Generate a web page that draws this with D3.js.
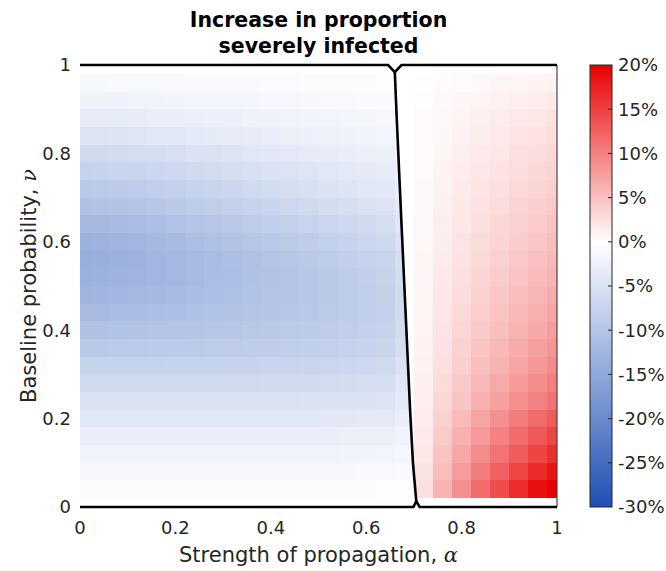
<!DOCTYPE html>
<html>
<head>
<meta charset="utf-8">
<script src="https://cdn.jsdelivr.net/npm/d3@7"></script>
<style>
  body { margin: 0; background: #fff; }
  svg text { font-family: "DejaVu Sans", sans-serif; }
</style>
</head>
<body>
<section></section>
<script>
// grid of strength of propagation (alpha) and baseline probability (nu)
const alphaGrid = [0, 0.04, 0.08, 0.12, 0.16, 0.2, 0.24, 0.28, 0.32, 0.36, 0.4, 0.44, 0.48,
  0.52, 0.56, 0.6, 0.64, 0.68, 0.72, 0.76, 0.8, 0.84, 0.88, 0.92, 0.96, 1];
const nuGrid = [1, 0.96, 0.92, 0.88, 0.84, 0.8, 0.76, 0.72, 0.68, 0.64, 0.6, 0.56, 0.52,
  0.48, 0.44, 0.4, 0.36, 0.32, 0.28, 0.24, 0.2, 0.16, 0.12, 0.08, 0.04, 0];

// increase in proportion severely infected (%), one row per nu (top to bottom)
const increase = [
  [0,0,0,0,0,0,0,0,0,0,0,0,0,0,0,0,0,0, 0,0,0,0,0,0,0,0],
  [-1.2,-1.2,-1.1,-1.1,-1.0,-1.0,-0.9,-0.9,-0.8,-0.8,-0.7,-0.7,-0.6,-0.6,-0.5,-0.5,-0.4,-0.3, 0.1,0.3,0.4,0.5,0.7,0.8,0.9,1.0],
  [-2.3,-2.3,-2.2,-2.1,-2.0,-1.9,-1.8,-1.7,-1.6,-1.5,-1.4,-1.3,-1.2,-1.1,-1.0,-0.9,-0.8,-0.6, 0.2,0.5,0.7,0.9,1.1,1.3,1.5,1.7],
  [-3.4,-3.4,-3.3,-3.2,-3.0,-2.9,-2.8,-2.6,-2.5,-2.3,-2.2,-2.0,-1.9,-1.7,-1.6,-1.5,-1.3,-1.0, 0.3,0.6,0.9,1.2,1.5,1.7,2.0,2.2],
  [-4.7,-4.6,-4.5,-4.4,-4.2,-4.0,-3.8,-3.6,-3.4,-3.2,-3.0,-2.8,-2.6,-2.4,-2.2,-2.0,-1.8,-1.4, 0.3,0.7,1.1,1.4,1.7,2.1,2.3,2.6],
  [-6.2,-6.1,-6.0,-5.8,-5.6,-5.3,-5.0,-4.8,-4.5,-4.2,-3.9,-3.7,-3.4,-3.2,-2.9,-2.7,-2.5,-1.9, 0.4,0.8,1.3,1.7,2.0,2.4,2.7,3.0],
  [-7.7,-7.6,-7.4,-7.2,-6.9,-6.6,-6.3,-6.0,-5.7,-5.3,-5.0,-4.7,-4.4,-4.1,-3.8,-3.5,-3.2,-2.5, 0.4,1.0,1.4,1.9,2.3,2.7,3.1,3.4],
  [-9.2,-9.1,-8.9,-8.6,-8.3,-8.0,-7.6,-7.2,-6.8,-6.4,-6.0,-5.6,-5.2,-4.8,-4.5,-4.2,-3.9,-3.0, 0.5,1.1,1.6,2.1,2.5,3.0,3.4,3.8],
  [-10.6,-10.5,-10.3,-10.0,-9.6,-9.2,-8.8,-8.4,-8.0,-7.6,-7.2,-6.7,-6.3,-5.9,-5.5,-5.1,-4.7,-3.6, 0.5,1.2,1.8,2.3,2.8,3.3,3.8,4.2],
  [-12.0,-11.9,-11.6,-11.3,-10.9,-10.5,-10.1,-9.7,-9.2,-8.8,-8.3,-7.9,-7.4,-7.0,-6.5,-6.1,-5.6,-4.4, 0.6,1.3,1.9,2.5,3.1,3.6,4.1,4.6],
  [-13.2,-13.1,-12.8,-12.4,-12.0,-11.6,-11.2,-10.7,-10.3,-9.8,-9.4,-8.9,-8.5,-8.0,-7.5,-7.0,-6.5,-5.1, 0.6,1.4,2.1,2.8,3.4,4.0,4.5,5.0],
  [-13.7,-13.6,-13.3,-13.0,-12.6,-12.2,-11.8,-11.4,-11.0,-10.6,-10.1,-9.7,-9.3,-8.8,-8.3,-7.8,-7.3,-5.7, 0.7,1.5,2.3,3.0,3.7,4.3,4.9,5.5],
  [-13.5,-13.4,-13.1,-12.8,-12.5,-12.1,-11.8,-11.4,-11.1,-10.7,-10.4,-10.0,-9.6,-9.2,-8.7,-8.2,-7.7,-6.0, 0.7,1.7,2.5,3.3,4.0,4.7,5.4,6.0],
  [-12.8,-12.7,-12.5,-12.2,-11.9,-11.6,-11.3,-11.0,-10.8,-10.5,-10.2,-9.9,-9.6,-9.2,-8.8,-8.4,-7.9,-6.2, 0.8,1.8,2.7,3.6,4.4,5.1,5.8,6.5],
  [-11.8,-11.7,-11.5,-11.3,-11.1,-10.9,-10.7,-10.5,-10.3,-10.1,-9.9,-9.6,-9.4,-9.1,-8.8,-8.4,-8.0,-6.2, 0.8,2.0,2.9,3.9,4.7,5.5,6.3,7.0],
  [-10.6,-10.6,-10.5,-10.3,-10.2,-10.1,-9.9,-9.8,-9.7,-9.5,-9.3,-9.1,-8.9,-8.7,-8.4,-8.1,-7.7,-6.0, 0.9,2.1,3.2,4.2,5.1,6.0,6.8,7.6],
  [-9.2,-9.2,-9.1,-9.1,-9.0,-9.0,-8.9,-8.8,-8.7,-8.6,-8.5,-8.4,-8.2,-8.0,-7.8,-7.5,-7.2,-5.6, 1.0,2.3,3.5,4.6,5.6,6.6,7.5,8.3],
  [-7.8,-7.8,-7.7,-7.7,-7.7,-7.6,-7.6,-7.6,-7.5,-7.5,-7.4,-7.3,-7.2,-7.1,-6.9,-6.7,-6.4,-5.0, 1.1,2.5,3.8,5.0,6.0,7.1,8.1,9.0],
  [-6.4,-6.4,-6.4,-6.4,-6.4,-6.4,-6.3,-6.3,-6.3,-6.3,-6.2,-6.2,-6.1,-6.0,-5.9,-5.8,-5.6,-4.4, 1.2,2.8,4.2,5.5,6.7,7.9,9.0,10.0],
  [-5.1,-5.1,-5.1,-5.1,-5.1,-5.1,-5.1,-5.1,-5.1,-5.1,-5.1,-5.1,-5.0,-5.0,-4.9,-4.8,-4.7,-3.6, 1.3,3.1,4.6,6.1,7.4,8.7,9.9,11.0],
  [-4.0,-4.0,-4.0,-4.0,-4.0,-4.0,-4.0,-4.0,-4.0,-4.0,-4.0,-4.0,-4.0,-3.9,-3.9,-3.8,-3.7,-2.9, 1.5,3.6,5.4,7.1,8.7,10.2,11.6,12.8],
  [-2.9,-2.9,-2.9,-2.9,-2.9,-2.9,-2.9,-2.9,-2.9,-2.9,-2.9,-2.9,-2.9,-2.9,-2.8,-2.8,-2.7,-2.1, 1.7,4.1,6.1,8.0,9.8,11.5,13.1,14.5],
  [-2.0,-2.0,-2.0,-2.0,-2.0,-2.0,-2.0,-2.0,-2.0,-2.0,-2.0,-2.0,-2.0,-2.0,-1.9,-1.9,-1.8,-1.4, 1.9,4.6,6.9,9.0,11.0,12.9,14.7,16.2],
  [-1.2,-1.2,-1.2,-1.2,-1.2,-1.2,-1.2,-1.2,-1.2,-1.2,-1.2,-1.2,-1.2,-1.2,-1.2,-1.1,-1.1,-0.9, 2.2,5.2,7.8,10.2,12.4,14.6,16.6,18.3],
  [-0.5,-0.5,-0.5,-0.5,-0.5,-0.5,-0.5,-0.5,-0.5,-0.5,-0.5,-0.5,-0.5,-0.5,-0.5,-0.5,-0.4,-0.3, 2.5,5.9,8.8,11.5,14.0,16.5,18.8,20.0],
  [0,0,0,0,0,0,0,0,0,0,0,0,0,0,0,0,0,0, 0,0,0,0,0,0,0,0]
];

// zero-level contour dividing the two regions
const topEdgeAlpha = [0, 0.646, 0.66, 0.674, 1];
const topEdgeNu = [1, 1, 0.984, 1, 1];
const splitAlpha = [0.66, 0.664, 0.669, 0.674, 0.68, 0.686, 0.692, 0.698, 0.705];
const splitNu = [0.984, 0.88, 0.76, 0.64, 0.5, 0.36, 0.22, 0.1, 0.013];
const bottomEdgeAlpha = [0, 0.699, 0.705, 0.712, 1];
const bottomEdgeNu = [0, 0, 0.013, 0, 0];

const xTicks = [0, 0.2, 0.4, 0.6, 0.8, 1];
const yTicks = [0, 0.2, 0.4, 0.6, 0.8, 1];
const colorTicks = [20, 15, 10, 5, 0, -5, -10, -15, -20, -25, -30];

const W = 666, H = 571;
const pl = 80, pr = 557, pt = 65, pb = 507;

const svg = d3.select("section").append("svg")
  .attr("width", W).attr("height", H);

const x = d3.scaleLinear().domain([0, 1]).range([pl, pr]);
const y = d3.scaleLinear().domain([0, 1]).range([pb, pt]);
const color = d3.scaleLinear()
  .domain([-30, 0, 20])
  .range(["rgb(30,80,180)", "#ffffff", "rgb(232,0,0)"])
  .clamp(true);

const split = d3.zip(splitAlpha, splitNu);
const defs = svg.append("defs");
// blue side: left of the split line, red side: right of it
const leftSide = [[0, 1], [splitAlpha[0], 1]].concat(split, [[splitAlpha[splitAlpha.length - 1], 0], [0, 0]]);
const rightSide = [[splitAlpha[0], 1], [1, 1], [1, 0], [splitAlpha[splitAlpha.length - 1], 0]].concat(split.slice().reverse());
const poly = pts => "M" + pts.map(p => [x(p[0]), y(p[1])].join(",")).join("L") + "Z";
defs.append("clipPath").attr("id", "clipNeg").append("path").attr("d", poly(leftSide));
defs.append("clipPath").attr("id", "clipPos").append("path").attr("d", poly(rightSide));

const da = alphaGrid[1] - alphaGrid[0];
const dn = nuGrid[0] - nuGrid[1];

const cells = [];
increase.forEach((row, i) => row.forEach((v, j) => {
  cells.push({ a: alphaGrid[j], n: nuGrid[i], v: v });
}));

[["clipNeg", d => d.v <= 0], ["clipPos", d => d.v > 0]].forEach(([id, keep]) => {
  svg.append("g")
    .attr("clip-path", `url(#${id})`)
    .attr("shape-rendering", "crispEdges")
    .selectAll("rect")
    .data(cells.filter(keep))
    .enter()
    .append("rect")
    .attr("x", d => x(Math.max(0, d.a - da / 2)))
    .attr("y", d => y(Math.min(1, d.n + dn / 2)))
    .attr("width", d => x(Math.min(1, d.a + da / 2)) - x(Math.max(0, d.a - da / 2)))
    .attr("height", d => y(Math.max(0, d.n - dn / 2)) - y(Math.min(1, d.n + dn / 2)))
    .attr("fill", d => color(d.v));
});

// right edge of the axes
svg.append("line")
  .attr("x1", x(1)).attr("x2", x(1))
  .attr("y1", y(0)).attr("y2", y(1))
  .attr("stroke", "#444").attr("stroke-width", 1.2);

const line = d3.line().x(d => x(d[0])).y(d => y(d[1]));
const contours = [
  d3.zip(topEdgeAlpha, topEdgeNu),
  split,
  d3.zip(bottomEdgeAlpha, bottomEdgeNu)
];
svg.selectAll("path.contour")
  .data(contours)
  .enter()
  .append("path")
  .attr("class", "contour")
  .attr("d", line)
  .attr("fill", "none")
  .attr("stroke", "#000")
  .attr("stroke-width", 2.6)
  .attr("stroke-linejoin", "miter");

// tick labels
svg.selectAll("text.xtick")
  .data(xTicks)
  .enter()
  .append("text")
  .attr("class", "xtick")
  .attr("x", d => x(d))
  .attr("y", pb + 27)
  .attr("text-anchor", "middle")
  .attr("font-size", 18)
  .attr("fill", "#262626")
  .text(d => d);

svg.selectAll("text.ytick")
  .data(yTicks)
  .enter()
  .append("text")
  .attr("class", "ytick")
  .attr("x", pl - 9)
  .attr("y", d => y(d))
  .attr("dy", "0.35em")
  .attr("text-anchor", "end")
  .attr("font-size", 18)
  .attr("fill", "#262626")
  .text(d => d);

// axis labels
const xl = svg.append("text")
  .attr("x", (pl + pr) / 2)
  .attr("y", pb + 55)
  .attr("text-anchor", "middle")
  .attr("font-size", 21)
  .attr("fill", "#262626");
xl.append("tspan").text("Strength of propagation, ");
xl.append("tspan").attr("font-family", "DejaVu Serif").attr("font-style", "italic").text("α");

const yl = svg.append("text")
  .attr("transform", `translate(36,${(pt + pb) / 2}) rotate(-90)`)
  .attr("text-anchor", "middle")
  .attr("font-size", 21)
  .attr("fill", "#262626");
yl.append("tspan").text("Baseline probability, ");
yl.append("tspan").attr("font-family", "DejaVu Serif").attr("font-style", "italic").text("ν");

// title
svg.selectAll("text.title")
  .data(["Increase in proportion", "severely infected"])
  .enter()
  .append("text")
  .attr("class", "title")
  .attr("x", (pl + pr) / 2)
  .attr("y", (d, i) => 27 + i * 26)
  .attr("text-anchor", "middle")
  .attr("font-size", 20.5)
  .attr("font-weight", "bold")
  .attr("fill", "#000")
  .text(d => d);

// colorbar
const cbX = 590, cbW = 22;
const cy = d3.scaleLinear().domain([-30, 20]).range([pb, pt]);
const grad = defs.append("linearGradient")
  .attr("id", "cbar").attr("x1", 0).attr("x2", 0).attr("y1", 1).attr("y2", 0);
grad.selectAll("stop")
  .data(colorTicks.slice().reverse())
  .enter()
  .append("stop")
  .attr("offset", d => (d + 30) / 50)
  .attr("stop-color", d => color(d));

svg.append("rect")
  .attr("x", cbX).attr("y", pt)
  .attr("width", cbW).attr("height", pb - pt)
  .attr("fill", "url(#cbar)")
  .attr("stroke", "#262626").attr("stroke-width", 1);

svg.selectAll("line.cbtick")
  .data(colorTicks.slice(1, -1))
  .enter()
  .append("line")
  .attr("class", "cbtick")
  .attr("x1", cbX + cbW - 4).attr("x2", cbX + cbW)
  .attr("y1", d => cy(d)).attr("y2", d => cy(d))
  .attr("stroke", "#262626").attr("stroke-width", 1);

svg.selectAll("text.cblabel")
  .data(colorTicks)
  .enter()
  .append("text")
  .attr("class", "cblabel")
  .attr("x", cbX + cbW + 6)
  .attr("y", d => cy(d))
  .attr("dy", "0.35em")
  .attr("font-size", 18)
  .attr("fill", "#262626")
  .text(d => d + "%");
</script>
</body>
</html>
